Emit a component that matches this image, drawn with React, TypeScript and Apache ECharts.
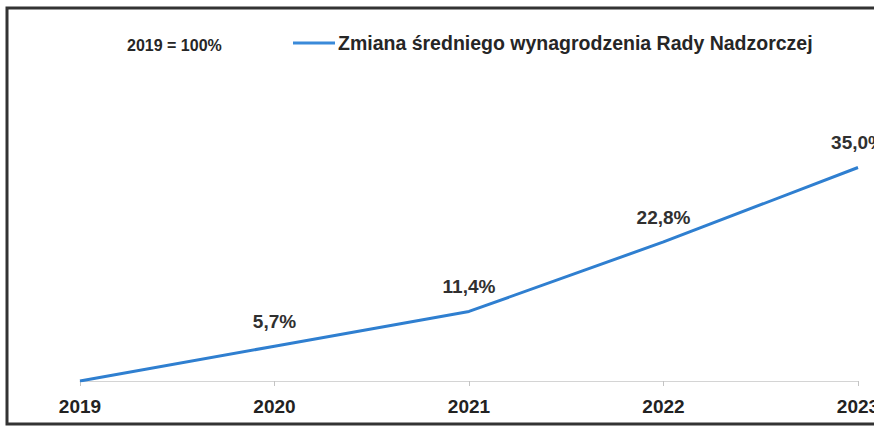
import React, { useEffect, useRef } from "react";
import * as echarts from "echarts";

const categories = ["2019", "2020", "2021", "2022", "2023"];
const values = [0, 5.7, 11.4, 22.8, 35.0];
const seriesName = "Zmiana średniego wynagrodzenia Rady Nadzorczej";
const baseNote = "2019 = 100%";

export default function App() {
  const ref = useRef<HTMLDivElement>(null);
  useEffect(() => {
    document.body.style.margin = "0";
    const chart = echarts.init(ref.current!, null, { renderer: "svg" });
    chart.setOption({
      animation: false,
      backgroundColor: "#ffffff",
      textStyle: { fontFamily: "Liberation Sans, Arial, sans-serif" },
      grid: {
        left: 80,
        right: 16,
        top: 137,
        bottom: 48,
        containLabel: false,
        outerBoundsMode: "none",
      },
      legend: {
        left: 288,
        top: 28,
        icon: "rect",
        itemWidth: 42,
        itemHeight: 3,
        textStyle: {
          fontSize: 19.5,
          fontWeight: "bold",
          color: "#262626",
          padding: [0, 0, 0, -2],
        },
        data: [{ name: seriesName, itemStyle: { color: "#3a8ad9" } }],
      },
      xAxis: {
        type: "category",
        data: categories,
        boundaryGap: false,
        axisLine: { lineStyle: { color: "#d4d4d4", width: 1 } },
        axisTick: { show: true, length: 5, lineStyle: { color: "#c4c4c4" } },
        axisLabel: {
          margin: 16,
          fontSize: 19,
          fontWeight: "bold",
          color: "#222",
        },
      },
      yAxis: {
        type: "value",
        min: 0,
        max: 40,
        show: false,
        splitLine: { show: false },
      },
      series: [
        {
          name: seriesName,
          type: "line",
          data: values,
          showSymbol: true,
          symbol: "circle",
          symbolSize: 0.1,
          lineStyle: { color: "#2f7fd0", width: 3 },
          itemStyle: { color: "#2f7fd0" },
          label: {
            show: true,
            position: "top",
            distance: 15,
            fontSize: 19,
            fontWeight: "bold",
            color: "#303030",
            formatter: (p: any) =>
              p.value === 0 ? "" : p.value.toFixed(1).replace(".", ",") + "%",
          },
        },
      ],
      graphic: [
        {
          type: "text",
          left: 127,
          top: 37,
          style: {
            text: baseNote,
            fontSize: 16,
            fontWeight: "bold",
            fill: "#262626",
            fontFamily: "Liberation Sans, Arial, sans-serif",
          },
        },
        {
          type: "rect",
          shape: { x: 7, y: 8, width: 920, height: 416 },
          style: { fill: "none", stroke: "#333", lineWidth: 3 },
          silent: true,
        },
      ],
    });
    return () => chart.dispose();
  }, []);
  return (
    <div
      ref={ref}
      style={{ position: "fixed", left: 0, top: 0, width: 874, height: 429 }}
    />
  );
}
